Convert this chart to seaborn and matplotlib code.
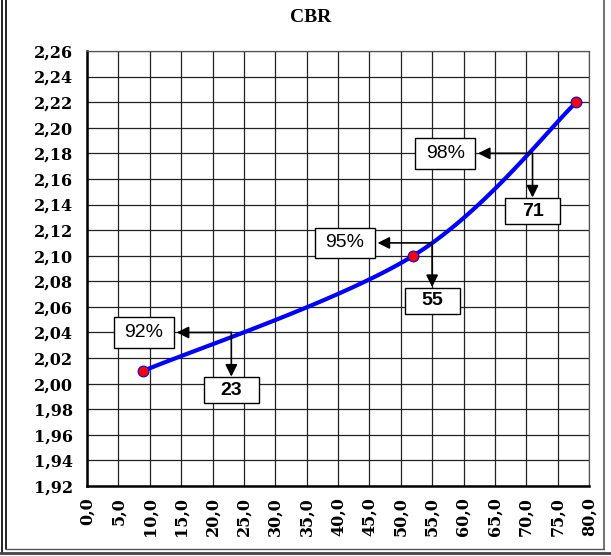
import numpy as np
import pandas as pd
import matplotlib
matplotlib.use("Agg")
import matplotlib.pyplot as plt
from matplotlib.lines import Line2D
from matplotlib.patches import Rectangle
from matplotlib.ticker import MultipleLocator, FuncFormatter
import seaborn as sns

# Measured points: CBR (%) vs dry density
cbr_values = [9.0, 52.0, 78.0]
densities = [2.01, 2.10, 2.22]

# Compaction levels
compaction_labels = ["92%", "95%", "98%"]
compaction_density = [2.04, 2.11, 2.18]
cbr_read = [23, 55, 71]

x_ticks = np.arange(0, 80.1, 5)
y_ticks = np.arange(1.92, 2.261, 0.02)

sns.set_style("white")
plt.rcParams["font.family"] = ["DejaVu Serif"]
plt.rcParams["text.color"] = "black"

fig = plt.figure(figsize=(6.11, 5.56), dpi=100)
ax = fig.add_axes([87 / 611, 70 / 556, 502 / 611, 435 / 556])


def smooth_curve(xs, ys, n=60):
    """Bezier smoothing through the points (tension 1/6, ends repeated)."""
    pts = np.column_stack([xs, ys]).astype(float)
    out = []
    for i in range(len(pts) - 1):
        p_prev = pts[max(i - 1, 0)]
        p0, p1 = pts[i], pts[i + 1]
        p_next = pts[min(i + 2, len(pts) - 1)]
        c1 = p0 + (p1 - p_prev) / 6
        c2 = p1 - (p_next - p0) / 6
        t = np.linspace(0, 1, n)[:, None]
        seg = ((1 - t) ** 3) * p0 + 3 * ((1 - t) ** 2) * t * c1 + 3 * (1 - t) * t ** 2 * c2 + t ** 3 * p1
        out.append(seg if i == 0 else seg[1:])
    return np.vstack(out)


curve = smooth_curve(cbr_values, densities)
curve_df = pd.DataFrame({"CBR": curve[:, 0], "Densidade": curve[:, 1]})
points_df = pd.DataFrame({"CBR": cbr_values, "Densidade": densities})

sns.lineplot(data=curve_df, x="CBR", y="Densidade", sort=False, ax=ax,
             color="#0000FF", lw=3, zorder=3)
sns.scatterplot(data=points_df, x="CBR", y="Densidade", ax=ax, color="#FF0000",
                edgecolor="#0000FF", linewidth=0.8, s=60, zorder=4)

# Reading arrows and label boxes
for lab, yd, xr in zip(compaction_labels, compaction_density, cbr_read):
    arrow = dict(arrowstyle="-|>,head_length=0.6,head_width=0.3", color="black",
                 lw=1.2, mutation_scale=12, shrinkA=0, shrinkB=0)
    ax.annotate("", xy=(xr - 8.7, yd), xytext=(xr, yd), arrowprops=arrow, zorder=5)
    ax.annotate("", xy=(xr, yd - 0.0345), xytext=(xr, yd), arrowprops=arrow, zorder=5)

    bx, bw, bh = xr - 13.9, 9.5, 0.024
    ax.add_patch(Rectangle((bx - bw / 2, yd - bh / 2), bw, bh, facecolor="white",
                           edgecolor="black", lw=1.0, zorder=6))
    ax.text(bx, yd, lab, ha="center", va="center", fontsize=14, color="black",
            family="Liberation Sans", zorder=7)

    vy, vw, vh = yd - 0.035 - 0.0205 / 2, 8.8, 0.0205
    ax.add_patch(Rectangle((xr - vw / 2, vy - vh / 2), vw, vh, facecolor="white",
                           edgecolor="black", lw=1.0, zorder=6))
    ax.text(xr, vy, str(xr), ha="center", va="center", fontsize=14, color="black",
            family="Liberation Sans", fontweight="bold", zorder=7)

ax.set_xlim(0, 80)
ax.set_ylim(1.92, 2.26)
ax.set_xticks(x_ticks)
ax.set_yticks(y_ticks)
ax.xaxis.set_minor_locator(MultipleLocator(1))
ax.xaxis.set_major_formatter(FuncFormatter(lambda v, p: f"{v:.1f}".replace(".", ",")))
ax.yaxis.set_major_formatter(FuncFormatter(lambda v, p: f"{v:.2f}".replace(".", ",")))

ax.grid(True, which="major", color="#222222", lw=0.9)
ax.set_axisbelow(True)
ax.set_xlabel("")
ax.set_ylabel("")

for side in ["top", "right"]:
    ax.spines[side].set_color("#555555")
    ax.spines[side].set_linewidth(0.9)
for side in ["left", "bottom"]:
    ax.spines[side].set_color("black")
    ax.spines[side].set_linewidth(1.8)

ax.tick_params(axis="y", which="major", direction="out", length=4, width=1.2,
               pad=6, labelsize=11.5, colors="black")
ax.tick_params(axis="x", which="major", direction="inout", length=8, width=1.2,
               pad=4, labelsize=11.5, labelrotation=90, colors="black")
ax.tick_params(axis="x", which="minor", direction="in", length=3.5, width=1.2,
               colors="black")
for t in ax.get_xticklabels() + ax.get_yticklabels():
    t.set_fontweight("bold")

fig.text(311 / 611, 1 - 17 / 556, "CBR", ha="center", va="center", color="black",
         fontsize=14, fontweight="bold", family="Liberation Serif")

# Chart frame
W, H = 611, 556
def fline(x0, y0, x1, y1, color, lw):
    fig.add_artist(Line2D([x0 / W, x1 / W], [1 - y0 / H, 1 - y1 / H],
                          transform=fig.transFigure, color=color, lw=lw))

fline(1.5, 0, 1.5, 553, "black", 1.2)
fline(5.5, 0, 5.5, 549, "black", 1.2)
fline(603.5, 0, 603.5, 549, "#777777", 1.5)
fline(5.5, 549, 603.5, 549, "#555555", 1.0)
fline(0, 553, 611, 553, "#444444", 2.0)

fig.savefig("out.png", dpi=100)
